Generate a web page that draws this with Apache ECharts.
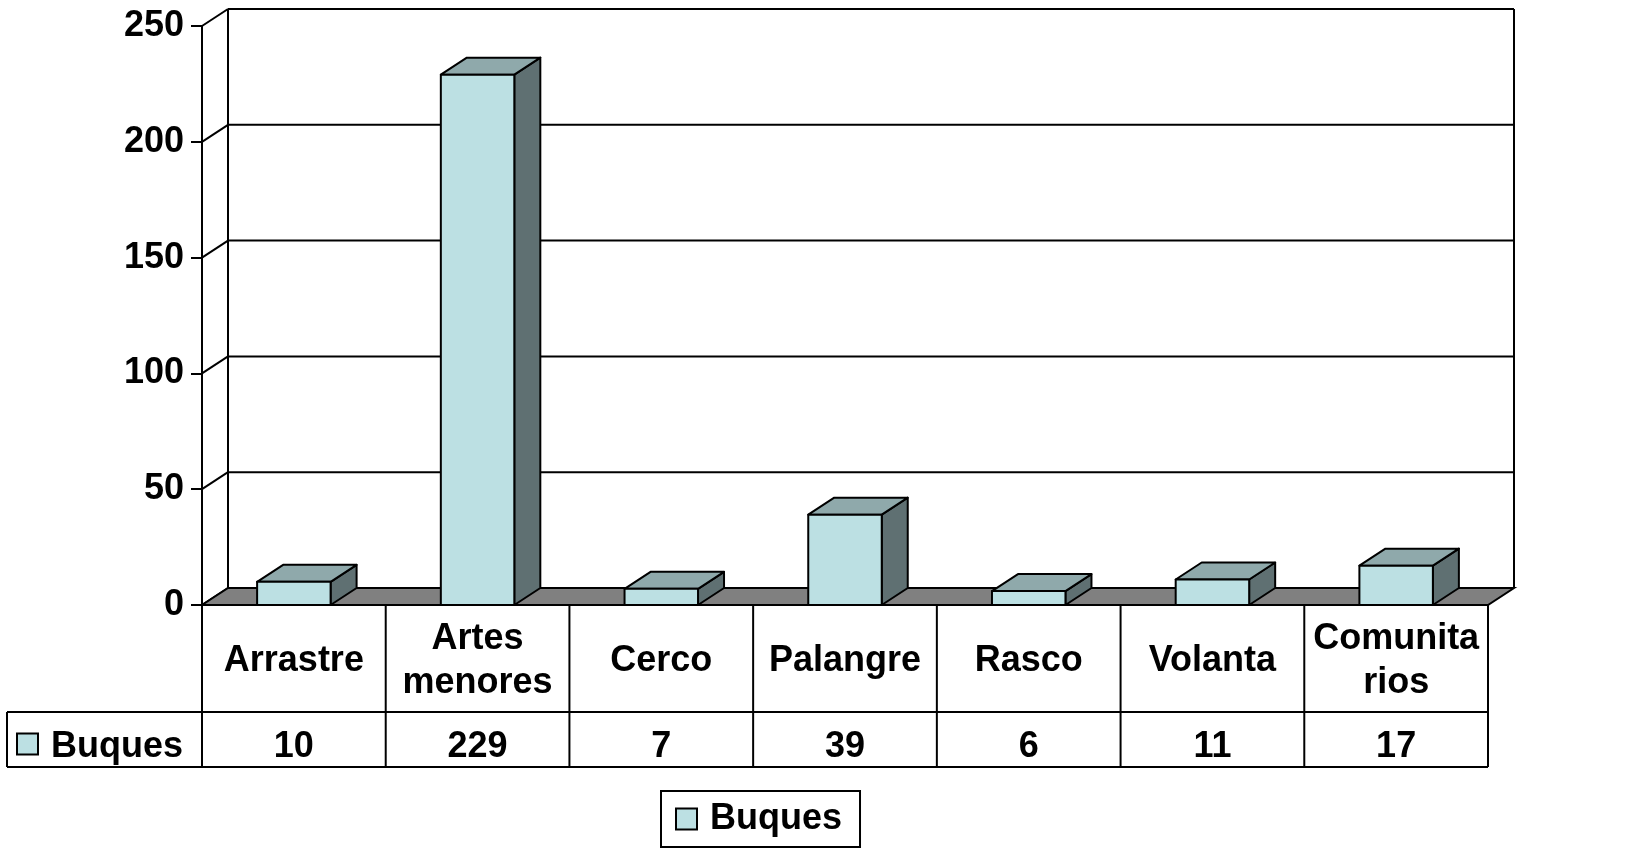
<!DOCTYPE html>
<html>
<head>
<meta charset="utf-8">
<script src="https://cdn.jsdelivr.net/npm/echarts@6/dist/echarts.min.js"></script>
<style>html,body{margin:0;padding:0;background:#fff}#c{width:1642px;height:853px}</style>
</head>
<body>
<div id="c"></div>
<script>
const categories = ['Arrastre', 'Artes\nmenores', 'Cerco', 'Palangre', 'Rasco', 'Volanta', 'Comunita\nrios'];
const buques = [10, 229, 7, 39, 6, 11, 17];
const yTicks = [0, 50, 100, 150, 200, 250];
const seriesName = 'Buques';

const DX = 26, DY = -17;
const FRONT = '#BCE0E3', TOP = '#8FA9AB', SIDE = '#5F7072', FLOOR = '#808080';
const FONT = 'Liberation Sans, Arial, sans-serif';
const FS = 36;

function ln(a, b, c, d, w) {
  return {type: 'line', shape: {x1: a, y1: b, x2: c, y2: d}, style: {stroke: '#000', lineWidth: w || 2}};
}

function renderDecor(params, api) {
  const cs = params.coordSys;
  const x0 = cs.x, x1 = cs.x + cs.width;
  const yb = api.coord([0, 0])[1];
  const yt = api.coord([0, yTicks[yTicks.length - 1]])[1];
  const ch = [];
  yTicks.forEach(v => {
    const y = api.coord([0, v])[1];
    ch.push(ln(x0 + DX, y + DY, x1 + DX, y + DY));
    ch.push(ln(x0, y, x0 + DX, y + DY));
  });
  ch.push(ln(x0 + DX, yb + DY, x0 + DX, yt + DY));
  ch.push(ln(x1 + DX, yb + DY, x1 + DX, yt + DY));
  ch.push({type: 'polygon', shape: {points: [[x0, yb], [x1, yb], [x1 + DX, yb + DY], [x0 + DX, yb + DY]]},
    style: {fill: FLOOR, stroke: '#000', lineWidth: 2}});
  const r0 = yb, r1 = yb + 107, r2 = yb + 162, L = 7;
  const bw = cs.width / categories.length;
  ch.push(ln(L, r1, x1, r1));
  ch.push(ln(L, r2, x1, r2));
  ch.push(ln(L, r1, L, r2));
  for (let k = 0; k <= categories.length; k++) {
    ch.push(ln(x0 + k * bw, r0, x0 + k * bw, r2));
  }
  const ym = (r1 + r2) / 2 + 8;
  buques.forEach((v, i) => {
    const x = api.coord([i, 0])[0];
    ch.push({type: 'text', style: {text: String(v), x: x, y: ym, align: 'center', verticalAlign: 'middle',
      font: 'bold ' + FS + 'px ' + FONT, fill: '#000'}});
  });
  ch.push({type: 'rect', shape: {x: 17, y: ym - 14, width: 21, height: 21},
    style: {fill: FRONT, stroke: '#000', lineWidth: 2}});
  ch.push({type: 'text', style: {text: seriesName, x: 51, y: ym, align: 'left', verticalAlign: 'middle',
    font: 'bold ' + FS + 'px ' + FONT, fill: '#000'}});
  return {type: 'group', children: ch};
}

function renderBar(params, api) {
  const i = api.value(0), v = api.value(1);
  const c = api.coord([i, v]);
  const b = api.coord([i, 0]);
  const w = api.size([1, 0])[0] * 0.4;
  const xl = c[0] - w / 2, xr = c[0] + w / 2, yt = c[1], yb = b[1];
  const st = {stroke: '#000', lineWidth: 2, lineJoin: 'round'};
  return {type: 'group', children: [
    {type: 'polygon', shape: {points: [[xr, yt], [xr + DX, yt + DY], [xr + DX, yb + DY], [xr, yb]]},
      style: Object.assign({fill: SIDE}, st)},
    {type: 'polygon', shape: {points: [[xl, yt], [xr, yt], [xr + DX, yt + DY], [xl + DX, yt + DY]]},
      style: Object.assign({fill: TOP}, st)},
    {type: 'rect', shape: {x: xl, y: yt, width: w, height: yb - yt},
      style: Object.assign({fill: FRONT}, st)}
  ]};
}

const chart = echarts.init(document.getElementById('c'), null, {renderer: 'canvas'});
chart.setOption({
  backgroundColor: '#fff',
  animation: false,
  grid: {left: 202, right: 154, top: 26, bottom: 248},
  xAxis: {
    type: 'category', data: categories,
    axisLine: {show: false}, axisTick: {show: false},
    axisLabel: {fontSize: FS, fontWeight: 'bold', fontFamily: FONT, color: '#000', lineHeight: 44,
      margin: 56, verticalAlign: 'middle', interval: 0}
  },
  yAxis: {
    type: 'value', min: 0, max: 250, interval: 50,
    axisLine: {show: true, lineStyle: {color: '#000', width: 2}},
    axisTick: {show: true, length: 11, lineStyle: {color: '#000', width: 2}},
    splitLine: {show: false},
    axisLabel: {fontSize: FS, fontWeight: 'bold', fontFamily: FONT, color: '#000', margin: 18}
  },
  legend: {
    left: 661, top: 791, itemWidth: 21, itemHeight: 21, padding: [10, 18, 10, 14],
    borderColor: '#000', borderWidth: 2,
    textStyle: {fontSize: FS, fontWeight: 'bold', fontFamily: FONT, color: '#000', lineHeight: 36, padding: [0, 0, 0, 8]},
    data: [{name: seriesName, icon: 'rect', itemStyle: {color: FRONT, borderColor: '#000', borderWidth: 2}}]
  },
  series: [
    {type: 'custom', name: '__decor', silent: true, z: 1, renderItem: renderDecor, data: [[0, 0]]},
    {type: 'custom', name: seriesName, z: 3, renderItem: renderBar, itemStyle: {color: FRONT},
      encode: {x: 0, y: 1}, data: buques.map((v, i) => [i, v])}
  ]
});
</script>
</body>
</html>
